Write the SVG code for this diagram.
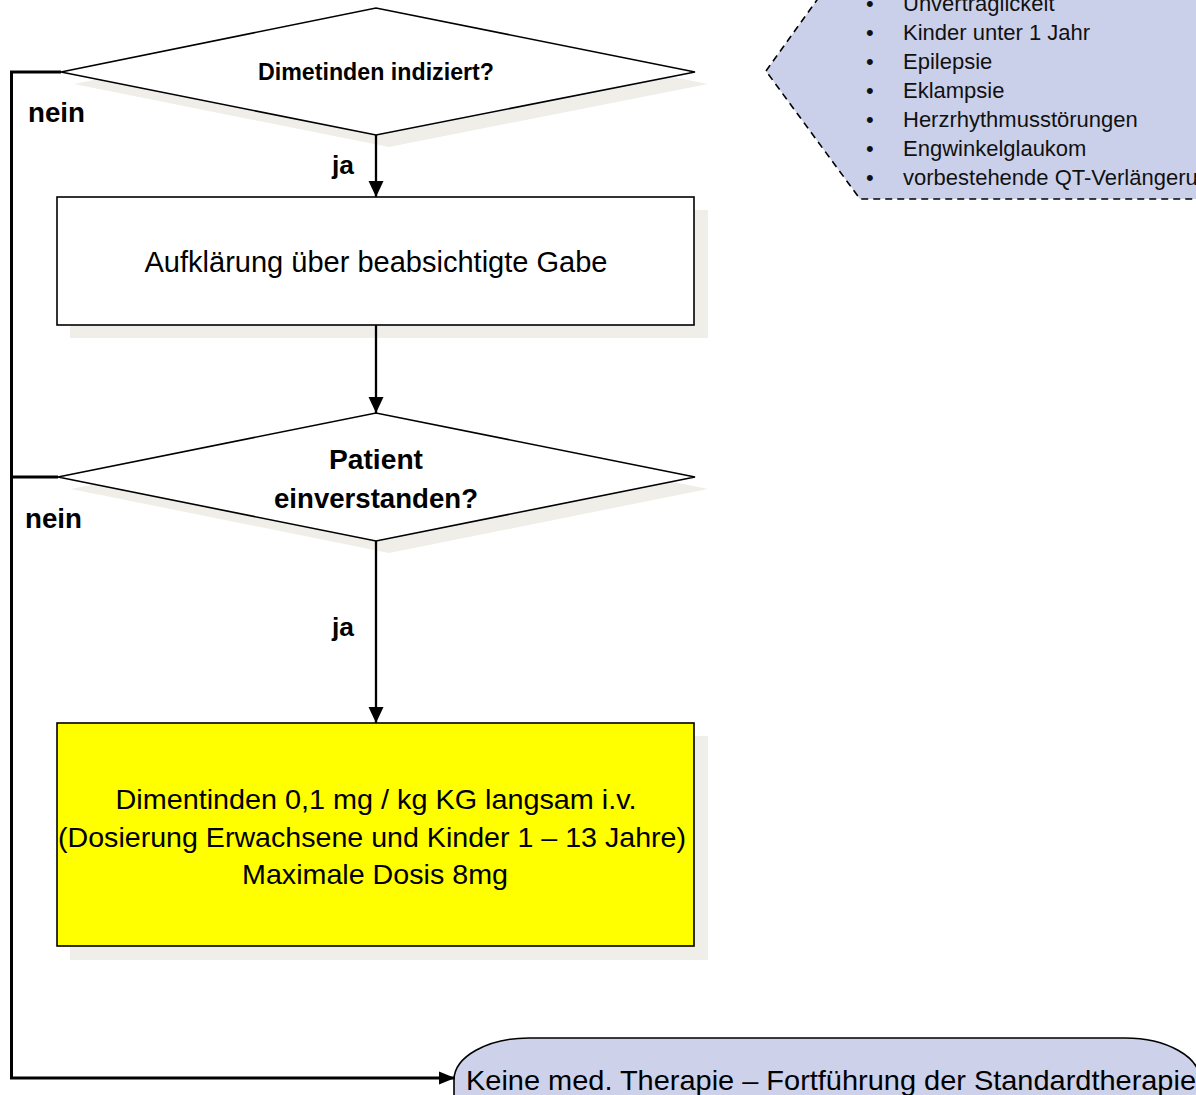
<svg xmlns="http://www.w3.org/2000/svg" width="1196" height="1095" viewBox="0 0 1196 1095">
  <style>
    .shadow { fill: #efeee8; stroke: none; }
    .box { stroke: #000; stroke-width: 1.6; }
    .wire { fill: none; stroke: #000; stroke-width: 2.3; }
    .wire.thick { stroke-width: 3; }
    .lbl { font-family: "Liberation Sans", Arial, sans-serif; fill: #000; }
    .b { font-weight: bold; }
    .mid { text-anchor: middle; }
    .list { font-family: "Liberation Sans", Arial, sans-serif; font-size: 22px; fill: #111; }
  </style>
  <defs>
    <marker id="arrow" markerUnits="userSpaceOnUse" markerWidth="18" markerHeight="18" viewBox="0 0 18 18" refX="16" refY="9" orient="auto">
      <path d="M0,1.5 L16,9 L0,16.5 Z" fill="#000"/>
    </marker>
    <marker id="arrow-side" markerUnits="userSpaceOnUse" markerWidth="18" markerHeight="18" viewBox="0 0 18 18" refX="16" refY="9" orient="auto">
      <path d="M0,2.5 L16,9 L0,15.5 Z" fill="#000"/>
    </marker>
  </defs>
  <rect width="1196" height="1095" fill="#fff"/>

  <!-- contraindication callout (dashed pentagon) -->
  <g id="callout">
    <path d="M766,71 L860,-60 L1260,-60 L1260,199 L860,199 Z" fill="#cbd0ea" stroke="#000" stroke-width="1.6" stroke-dasharray="7,5"/>
    <g class="list">
      <text x="866" y="11">•</text><text x="903" y="11">Unverträglickeit</text>
      <text x="866" y="40">•</text><text x="903" y="40">Kinder unter 1 Jahr</text>
      <text x="866" y="69">•</text><text x="903" y="69">Epilepsie</text>
      <text x="866" y="98">•</text><text x="903" y="98">Eklampsie</text>
      <text x="866" y="127">•</text><text x="903" y="127">Herzrhythmusstörungen</text>
      <text x="866" y="156">•</text><text x="903" y="156">Engwinkelglaukom</text>
      <text x="866" y="185">•</text><text x="903" y="185">vorbestehende QT-Verlängerung</text>
    </g>
  </g>

  <!-- decision: indication -->
  <g id="decision-indication">
    <polygon class="shadow" points="74,84 389,20 708,84 389,147"/>
    <polygon class="box" fill="#fff" points="61,72 376,8 695,72 376,135"/>
    <text class="lbl b mid" x="376" y="80" font-size="23" textLength="236" lengthAdjust="spacingAndGlyphs">Dimetinden indiziert?</text>
  </g>

  <!-- process: information -->
  <g id="process-information">
    <rect class="shadow" x="70" y="210" width="638" height="128"/>
    <rect class="box" fill="#fff" x="57" y="197" width="637" height="128"/>
    <text class="lbl mid" x="376" y="272" font-size="29" textLength="463" lengthAdjust="spacingAndGlyphs">Aufklärung über beabsichtigte Gabe</text>
  </g>

  <!-- decision: consent -->
  <g id="decision-consent">
    <polygon class="shadow" points="71,489 389,425 708,489 389,553"/>
    <polygon class="box" fill="#fff" points="58,477 376,413 695,477 376,541"/>
    <text class="lbl b mid" x="376" y="469" font-size="27" textLength="94" lengthAdjust="spacingAndGlyphs">Patient</text>
    <text class="lbl b mid" x="376" y="508" font-size="27" textLength="204" lengthAdjust="spacingAndGlyphs">einverstanden?</text>
  </g>

  <!-- process: dosage -->
  <g id="process-dosage">
    <rect class="shadow" x="70" y="736" width="638" height="224"/>
    <rect class="box" fill="#ffff00" x="57" y="723" width="637" height="223"/>
    <text class="lbl mid" x="376" y="809" font-size="28" textLength="521" lengthAdjust="spacingAndGlyphs">Dimentinden 0,1 mg / kg KG langsam i.v.</text>
    <text class="lbl mid" x="372" y="847" font-size="28" textLength="628" lengthAdjust="spacingAndGlyphs">(Dosierung Erwachsene und Kinder 1 – 13 Jahre)</text>
    <text class="lbl mid" x="375" y="884" font-size="28" textLength="266" lengthAdjust="spacingAndGlyphs">Maximale Dosis 8mg</text>
  </g>

  <!-- terminal: no medication -->
  <g id="terminal-no-therapy">
    <rect x="454" y="1038" width="746" height="100" rx="75" ry="42" fill="#cdd1ea" stroke="#000" stroke-width="1.6"/>
    <text class="lbl" x="466" y="1090" font-size="28" textLength="730" lengthAdjust="spacingAndGlyphs">Keine med. Therapie – Fortführung der Standardtherapie</text>
  </g>

  <!-- connectors -->
  <g id="connectors">
    <path class="wire" d="M376,135 L376,197" marker-end="url(#arrow)"/>
    <path class="wire" d="M376,325 L376,413" marker-end="url(#arrow)"/>
    <path class="wire" d="M376,541 L376,723" marker-end="url(#arrow)"/>
    <path class="wire thick" d="M61,72 L11.5,72 L11.5,1078 L455,1078" marker-end="url(#arrow-side)"/>
    <path class="wire thick" d="M58,477 L11.5,477"/>
    <text class="lbl b" x="28" y="122" font-size="27" textLength="57" lengthAdjust="spacingAndGlyphs">nein</text>
    <text class="lbl b" x="332" y="174" font-size="26" textLength="22" lengthAdjust="spacingAndGlyphs">ja</text>
    <text class="lbl b" x="25" y="528" font-size="27" textLength="57" lengthAdjust="spacingAndGlyphs">nein</text>
    <text class="lbl b" x="332" y="636" font-size="26" textLength="22" lengthAdjust="spacingAndGlyphs">ja</text>
  </g>
</svg>
